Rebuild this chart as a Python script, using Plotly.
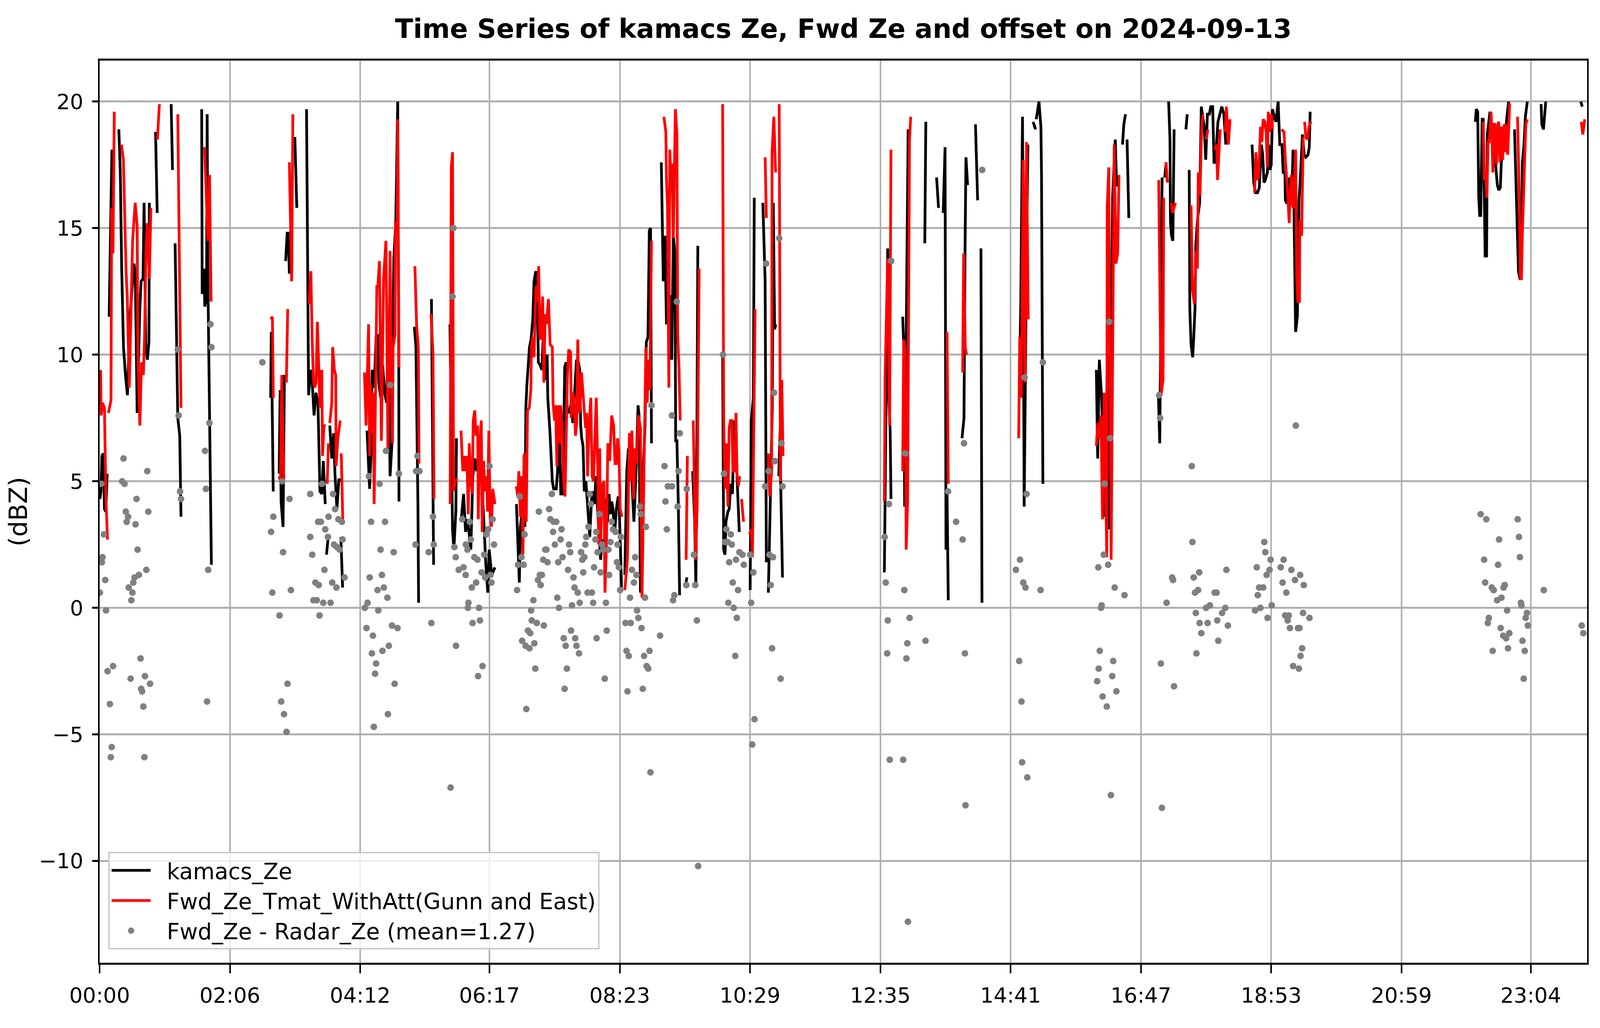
import pandas as pd
import plotly.graph_objects as go

# minutes after midnight on 2024-09-13, None = gap in the record
kamacs_min = [
    0.3, 1.3, 2.2, 3.5, 4.7, 6.0, 7.3, None,
    9.2, 11.9, None,
    18.6, 20.0, 21.3, 23.1, 25.0, 26.9, 29.4, 33.2, 34.5,
    36.3, 38.9, 40.1, 42.0, 43.0, 44.6, 46.2, 47.7, 48.1, None,
    54.1, 55.7, None,
    69.2, 70.5, None,
    73.0, 74.5, 75.6, 77.5, 78.7, None,
    98.7, 99.2, 100.9, 101.7, 103.4, 104.0, 104.7, 106.6, 108.1, None,
    165.4, 166.0, 167.9, None,
    173.6, 174.6, 175.5, 177.4, 178.7, None,
    179.9, 181.4, 182.5, 183.5, None,
    188.8, 190.7, None,
    200.1, 201.1, 202.1, 203.6, 204.9, 207.4, 209.3, 211.2, 213.1, 215.0, 216.3, 218.2, None,
    219.4, 221.3, None,
    222.6, 224.5, 226.4, 227.6, 229.5, 231.4, 232.7, None,
    233.3, 235.0, None,
    258.6, 259.9, 261.1, 262.4, 263.6, 265.5, 267.4, 269.1, 270.0, 271.8, 273.7,
    275.6, 277.5, 279.2, 280.9, 282.6, 284.5, 286.4, 288.3, 289.3, 289.5, None,
    304.4, 305.9, 307.8, 308.5, None,
    320.9, 322.1, 323.0, None,
    338.8, 340.3, 341.3, 342.6, 344.5, 345.1, None,
    349.5, 352.0, 353.9, 355.8, 359.0, 360.9, 362.8, 364.7, 367.2,
    369.7, 371.6, 373.5, 375.4, 376.7, 379.2, 381.7, 382.3, None,
    403.1, 405.9, 406.9, 408.8, 410.4, 411.3, 412.2, 413.2, 414.5, 415.7,
    417.2, 418.9, 420.1, 421.8, 423.3, 424.3, 425.8, 427.7, 429.4, 431.1,
    432.8, 433.4, 435.3, 436.6, 437.8, 439.1, 441.6, 442.9, 444.1, 446.0,
    447.9, 449.8, 451.1, 452.3, 454.2, 456.1, 457.6, 459.3, 461.2, 463.1,
    464.3, 465.2, 466.2, 467.5, 468.7, 470.3, 471.3, 472.5, 474.0, 475.7,
    477.3, 478.8, 479.8, 481.6, 483.2, 484.5, 486.2, 488.3, 489.6, 491.2,
    492.7, 494.0, 495.2, 496.5, 498.0, 499.7, 501.5, 502.6, 503.8, 504.7, None,
    507.9, 509.8, 511.4, 512.9, 514.8, 516.7, 519.0, 520.7, 521.7, 523.0,
    525.5, 527.4, 528.7, 530.3, 531.6, 532.8, 533.7, None,
    543.2, 545.1, 546.7, 548.2, 550.1, 552.0, 553.3, 554.8, 556.4, 557.1, 558.3, 559.6, 560.9, None,
    566.2, 568.0, None,
    573.5, 575.4, 576.6, 577.3, 578.5, None,
    602.5, 603.5, 604.8, 605.7, 607.6, 608.8, 610.4, 612.0, 613.6, 615.2, 616.4, 617.4, 618.6, None,
    619.5, 622.1, None,
    629.1, 630.3, 632.2, 633.1, None,
    641.4, 643.6, 644.8, None,
    646.7, 648.6, 650.5, 651.5, 652.8, 653.8, None,
    656.8, 658.1, 658.7, 659.4, 660.4, None,
    758.9, 760.5, 762.1, 762.7, 764.5, 765.3, None,
    776.6, 777.9, 778.5, 781.0, 781.9, None,
    798.0, 799.0, None,
    809.4, 811.3, None,
    815.8, 817.6, 818.5, 819.5, 820.7, None,
    834.0, 835.9, 836.9, 837.8, 839.4, None,
    847.0, 847.8, 849.1, None,
    852.3, 853.3, None,
    888.2, 889.5, 890.8, 892.5, 893.2, 894.1, 895.7, 897.7, None,
    902.7, 905.2, None,
    905.8, 908.4, 910.3, 910.9, 912.2, None,
    963.9, 965.2, 966.8, 969.0, 972.1, 973.1, 974.7, 976.5, 978.4, 979.7, 982.2, 983.5, 984.8, None,
    989.2, 990.5, 992.1, None,
    993.6, 995.3, None,
    1024.0, 1025.2, 1026.4, 1027.5, None,
    1030.0, 1031.5, None,
    1033.8, 1035.1, 1035.6, 1036.6, 1037.9, 1039.1, None,
    1050.5, 1051.8, None,
    1053.7, 1054.3, 1055.5, 1057.1, 1058.1, 1059.3, 1060.0, 1061.9, 1063.8, 1064.4, 1065.4, 1068.2,
    1069.7, 1071.3, 1073.2, 1074.5, 1076.4, 1077.7, 1078.9, 1081.5, 1083.4, 1085.2, 1087.2, 1089.1, None,
    1114.5, 1116.1, 1117.8, 1119.8, 1121.5, 1123.5, 1124.8, 1126.0, 1127.3, 1128.5, 1129.3, 1130.6, 1131.8, 1133.0,
    1134.3, 1135.9, 1137.6, 1139.7, 1140.5, 1141.3, 1143.4, 1144.6, 1146.3, 1146.7, 1147.9, 1149.6, 1150.8, 1152.1,
    1152.9, 1154.1, 1155.0, 1155.8, 1156.6, 1158.3, 1159.9, 1161.6, 1163.2, 1164.9, 1166.5, 1168.6, 1169.8, 1170.7, None,
    1330.4, 1331.3, 1332.7, 1333.7, 1334.6, 1335.6, 1337.0, 1338.0, 1339.9, 1341.3, 1342.0, 1343.2,
    1344.6, 1345.6, 1347.4, 1349.8, 1351.7, 1353.1, 1354.6, 1355.5, 1357.9, 1359.8, 1361.2, 1362.6, None,
    1368.3, 1370.2, 1372.1, 1373.5, 1374.5, 1375.9, 1377.3, 1378.8, 1380.7, None,
    1394.0, 1394.7, 1396.3, 1397.6, 1398.5, None,
    1432.4, 1433.8,
]
kamacs_ze = [
    4.3, 4.6, 6.0, 6.1, 3.9, 3.8, 5.3, None,
    11.5, 18.1, None,
    18.9, 17.2, 13.5, 10.3, 9.2, 8.4, 11.5, 13.6, 13.2,
    7.7, 11.8, 12.9, 13.0, 16.0, 10.4, 9.8, 10.5, 16.0, None,
    18.8, 15.6, None,
    19.9, 17.3, None,
    14.4, 11.0, 7.5, 6.8, 3.6, None,
    19.7, 12.4, 13.4, 11.9, 12.3, 19.5, 13.0, 5.2, 1.7, None,
    8.3, 10.9, 4.6, None,
    5.3, 8.6, 4.2, 3.2, 9.2, None,
    13.7, 14.8, 14.8, 13.2, None,
    18.6, 15.8, None,
    19.7, 12.1, 8.4, 9.2, 9.4, 7.6, 8.5, 8.0, 4.6, 4.5, 5.8, 4.1, None,
    2.1, 2.9, None,
    7.2, 5.9, 6.9, 5.3, 3.9, 5.1, 5.0, None,
    2.8, 0.8, None,
    7.0, 5.4, 4.7, 6.1, 9.4, 8.7, 10.7, 10.8, 8.9, 8.3, 9.6,
    8.5, 8.1, 11.4, 5.2, 6.4, 13.8, 15.2, 20.0, 9.4, 4.2, None,
    11.1, 10.3, 4.2, 0.2, None,
    12.2, 7.0, 1.7, None,
    11.2, 6.0, 3.1, 2.3, 3.8, 6.7, None,
    3.4, 4.5, 3.0, 3.5, 2.3, 5.2, 5.9, 5.4, 5.8,
    4.9, 3.4, 1.7, 0.6, 2.3, 1.3, 1.6, 1.6, None,
    4.1, 1.0, 3.2, 3.9, 4.5, 3.2, 7.9, 8.8, 9.5, 10.3,
    10.6, 11.4, 12.9, 13.3, 12.1, 9.7, 9.6, 9.4, 11.2, 9.0,
    10.0, 8.3, 7.1, 5.8, 5.0, 4.7, 4.7, 5.4, 7.9, 4.5,
    4.5, 9.5, 9.7, 7.8, 7.7, 8.1, 7.3, 8.5, 9.8, 9.7,
    9.4, 7.2, 6.7, 6.4, 4.6, 5.0, 4.3, 3.4, 2.8, 4.3,
    4.6, 4.1, 5.2, 3.9, 2.7, 1.9, 2.7, 2.5, 4.3, 3.4,
    4.5, 3.7, 4.2, 3.9, 2.9, 3.9, 4.4, 3.8, 2.2, 0.8, None,
    1.3, 5.4, 6.3, 5.7, 5.0, 3.4, 5.6, 8.0, 7.6, 0.6,
    5.3, 7.1, 10.5, 10.7, 14.9, 15.0, 6.5, None,
    17.6, 12.9, 14.7, 11.2, 12.3, 12.3, 9.8, 14.7, 14.0, 6.6, 6.6, 4.2, 0.5, None,
    0.8, 1.2, None,
    5.4, 3.5, 0.9, 4.1, 14.3, None,
    10.0, 2.3, 2.1, 3.4, 3.8, 3.9, 4.9, 4.5, 7.4, 6.8, 5.2, 4.2, 3.0, None,
    2.1, 2.1, None,
    0.7, 7.4, 8.3, 16.2, None,
    16.0, 12.9, 1.8, None,
    0.6, 4.5, 7.9, 16.0, 11.0, 11.2, None,
    5.2, 7.0, 4.8, 2.5, 1.2, None,
    1.4, 9.0, 14.2, 8.9, 7.0, 4.3, None,
    11.5, 10.1, 4.0, 16.6, 18.9, None,
    14.4, 19.2, None,
    17.0, 15.8, None,
    15.6, 18.2, 2.3, 4.6, 0.3, None,
    6.7, 7.5, 14.0, 17.8, 16.7, None,
    19.1, 17.8, 16.1, None,
    14.2, 0.2, None,
    8.9, 8.9, 12.0, 19.4, 13.5, 4.0, 10.9, 18.3, None,
    19.2, 18.9, None,
    19.3, 20.0, 19.0, 17.0, 4.9, None,
    9.4, 5.9, 9.8, 8.3, 3.6, 6.1, 10.0, 3.1, 10.0, 16.3, 18.5, 16.7, 16.7, None,
    18.3, 19.1, 19.5, None,
    18.5, 15.4, None,
    8.3, 6.5, 12.0, 17.0, None,
    17.0, 17.6, None,
    20.0, 18.5, 15.2, 14.7, 14.5, 18.9, None,
    18.9, 19.5, None,
    17.3, 11.8, 10.4, 9.9, 10.7, 11.8, 14.3, 15.4, 16.0, 17.6, 19.8, 19.0,
    17.7, 19.5, 19.5, 19.8, 19.8, 17.6, 17.6, 19.2, 19.5, 19.8, 19.5, 18.3, None,
    18.3, 16.8, 16.4, 16.4, 16.6, 18.3, 17.9, 16.8, 16.9, 17.1, 17.2, 18.3, 17.3, 17.5,
    19.7, 19.4, 19.2, 20.0, 19.0, 18.3, 18.3, 17.2, 17.2, 16.1, 16.0, 16.0, 17.0, 16.8,
    16.1, 18.1, 15.8, 13.0, 10.9, 11.5, 16.1, 17.3, 18.7, 17.9, 17.8, 17.9, 18.2, 19.6, None,
    19.2, 19.7, 19.6, 16.2, 15.5, 15.5, 19.3, 19.3, 13.9, 13.9, 18.7, 19.1,
    19.6, 18.7, 18.8, 17.6, 16.7, 16.5, 16.6, 17.6, 18.3, 18.9, 19.5, 20.0, None,
    18.9, 15.9, 13.3, 13.0, 13.0, 17.6, 18.2, 19.4, 20.0, None,
    19.9, 19.1, 18.9, 19.6, 20.0, None,
    20.0, 19.8,
]

fwd_min = [
    0.9, 1.5, 2.8, 4.7, 6.0, 7.6, None,
    8.5, 11.0, 11.6, 12.9, 14.2, None,
    21.1, 23.0, 25.6, 26.8, 28.7, 30.0, 31.9, 34.4, 36.3,
    37.0, 38.9, 40.5, 42.3, 43.5, 44.8, 46.1, 48.1, 49.6, None,
    55.9, 57.8, None,
    75.6, 78.7, None,
    101.5, 104.7, 106.3, 107.8, None,
    165.4, 167.1, 168.0, None,
    173.6, 174.9, 176.2, 178.1, None,
    180.6, 181.9, None,
    183.5, 185.7, 186.9, None,
    202.6, 204.3, 205.5, 206.8, 208.1, 209.3, 210.6, 211.9, 213.1, 214.8, 215.6, 216.9, 218.6, None,
    220.1, 221.3, None,
    222.6, 224.5, 225.4, 227.0, 228.3, 228.7, 230.4, 231.7, 232.7, None,
    233.7, 235.2, None,
    256.1, 257.7, 260.1, 261.1, 262.0, 263.3, 264.5, 265.5, 268.1, 269.1, 270.6, 272.5,
    274.6, 276.9, 278.8, 280.9, 283.2, 283.8, 285.7, 286.1, 287.6, 288.3, 289.5, None,
    304.9, 306.6, 308.2, 308.9, None,
    320.5, 322.4, 323.4, None,
    339.0, 340.1, 341.3, 342.3, 343.8, 346.1, None,
    349.5, 351.2, 352.7, 353.9, 355.2, 356.5, 357.5, 358.7, 360.3, 361.3, 362.8, 364.0, 365.6, 366.2,
    367.5, 369.1, 370.0, 371.4, 372.6, 374.2, 375.2, 376.4, 377.7, 378.9, 380.2, 381.7, 382.3, None,
    402.9, 404.4, 405.4, 406.9, 408.2, 409.4, 410.4, 411.3, 412.6, 413.8,
    415.5, 417.0, 417.6, 418.9, 420.1, 422.0, 423.3, 424.6, 425.8, 426.8,
    428.4, 429.6, 430.9, 432.1, 434.0, 435.7, 437.8, 438.5, 440.0, 441.0,
    442.2, 443.2, 444.8, 445.8, 447.3, 448.5, 450.1, 451.3, 452.3, 453.6,
    455.5, 456.1, 457.4, 458.6, 460.2, 461.4, 462.4, 463.7, 464.3, 466.0,
    467.5, 468.7, 470.0, 471.0, 471.9, 473.2, 475.0, 476.3, 477.6, 478.8,
    480.3, 482.0, 482.6, 483.6, 484.5, 485.8, 487.7, 488.7, 490.2, 491.5,
    493.3, 495.2, 497.1, 498.4, 499.7, 500.9, 502.2, 503.4, 505.1, None,
    507.9, 510.4, 512.3, 513.5, 514.8, 516.4, 517.7, 519.2, 521.1,
    523.0, 524.5, 525.8, 526.8, 528.3, 529.6, 530.8, 532.1, 533.7, None,
    545.7, 547.6, 548.2, 549.2, 550.5, 551.4, 552.0, 553.5, 554.8, 556.8, 558.3, 559.0, 560.2, 561.5, None,
    567.2, 568.4, None,
    574.1, 575.4, 576.4, 577.9, 579.8, None,
    602.5, 603.5, 604.8, 606.3, 607.6, 608.8, 610.1, 611.4, 612.4, 613.9, 615.4, 616.4, 617.7, 619.0, None,
    620.8, 622.7, None,
    628.4, 630.3, 631.3, 632.6, 633.9, None,
    643.6, 644.8, None,
    646.7, 648.0, 649.9, 650.3, 652.0, 653.7, None,
    657.2, 657.8, 658.4, 659.7, 660.9, None,
    758.9, 759.6, 762.1, 764.0, 765.3, None,
    776.6, 777.6, 779.1, 780.0, 781.4, 783.2, 784.4, None,
    819.5, 820.7, None,
    834.6, 835.6, 837.1, 838.4, None,
    888.8, 889.8, 891.3, 893.2, 894.9, 896.4, 898.0, None,
    963.9, 965.2, 966.8, 968.3, 969.9, 971.5, 974.0, 974.4, 975.9, 978.2, 981.2, 982.9, 984.5, 985.8, None,
    1024.2, 1025.8, 1026.5, 1028.4, 1029.0, None,
    1031.3, 1032.6, None,
    1036.3, 1037.6, 1040.4, None,
    1055.5, 1056.8, 1058.7, 1060.4, 1061.6, 1062.5, 1064.1, 1065.7, 1066.9, None,
    1070.1, 1071.7, None,
    1078.3, 1080.2, 1081.1, 1083.6, None,
    1088.4, 1089.7, 1091.6, 1093.2, None,
    1116.9, 1118.2, 1119.4, 1120.7, 1122.7, 1124.0, 1125.2, 1126.9, 1128.1, 1129.3, 1130.2, 1131.4, 1132.2, 1133.5, 1134.3, None,
    1143.0, 1145.4, 1146.7, 1148.3, 1149.2, 1150.4, 1151.2, 1152.5, 1153.7,
    1154.5, 1156.6, 1157.8, 1158.7, 1160.3, 1160.7, 1162.4, 1163.2, 1164.0, None,
    1165.3, 1166.5, 1168.2, 1169.4, 1171.5, None,
    1338.0, 1339.1, 1340.3, 1341.6, 1342.7, 1343.8, 1345.6, 1346.5, 1347.3, 1348.4, 1349.3, 1350.8, 1352.2,
    1353.1, 1354.1, 1355.0, 1356.2, 1356.9, 1357.9, 1358.8, 1359.6, 1360.7, 1361.7, 1362.6, 1363.6, 1364.5, None,
    1371.2, 1373.1, 1374.0, 1375.0, 1375.9, 1377.8, 1379.2, 1380.7, None,
    1432.9, 1434.3, 1436.2,
]
fwd_ze = [
    9.4, 7.6, 8.1, 7.9, 4.5, 2.7, None,
    7.7, 8.2, 15.8, 14.0, 19.6, None,
    18.3, 17.7, 13.3, 12.2, 8.7, 11.2, 14.5, 16.0, 15.1,
    10.1, 7.2, 9.7, 9.2, 10.7, 14.0, 15.2, 13.0, 15.8, None,
    18.5, 19.9, None,
    19.5, 7.9, None,
    18.2, 14.5, 17.1, 12.1, None,
    11.4, 11.5, 8.3, None,
    5.2, 5.0, 9.2, 5.0, None,
    8.9, 11.8, None,
    17.6, 12.9, 19.5, None,
    12.0, 13.3, 10.7, 9.0, 8.7, 8.9, 11.3, 9.7, 7.9, 9.4, 6.0, 7.2, 7.2, None,
    4.9, 6.5, None,
    7.3, 8.1, 10.3, 9.4, 9.2, 5.6, 6.7, 7.2, 7.4, None,
    6.1, 3.4, None,
    9.3, 7.2, 11.2, 6.0, 8.8, 6.9, 8.5, 4.1, 12.7, 12.7, 13.7, 6.6,
    13.0, 14.5, 6.3, 14.1, 6.5, 10.3, 10.8, 15.2, 15.2, 19.3, 9.5, None,
    13.5, 11.1, 10.3, 5.7, None,
    11.6, 10.0, 4.3, None,
    4.1, 17.4, 18.0, 4.6, 5.0, 5.1, None,
    7.0, 5.4, 6.0, 5.4, 6.0, 3.7, 6.5, 5.2, 4.5, 7.4, 7.8, 6.8, 7.2, 3.5,
    6.1, 7.4, 3.0, 5.8, 4.6, 5.2, 3.8, 7.0, 3.6, 3.2, 4.7, 4.1, 4.1, None,
    4.8, 4.4, 5.4, 3.6, 5.2, 2.1, 6.0, 6.1, 3.4, 7.8,
    7.9, 8.6, 10.3, 10.7, 9.9, 12.7, 12.1, 13.5, 10.7, 10.6,
    12.3, 8.9, 11.6, 11.2, 12.2, 10.4, 10.3, 8.1, 7.4, 8.0,
    5.6, 8.0, 6.5, 8.0, 7.1, 5.2, 4.4, 7.2, 9.0, 10.2,
    10.1, 7.5, 8.5, 8.3, 6.8, 7.3, 10.6, 7.8, 7.7, 9.3,
    8.2, 7.8, 7.1, 7.7, 5.2, 7.1, 8.3, 5.2, 5.0, 6.8,
    8.3, 4.8, 2.5, 6.3, 2.4, 4.8, 5.0, 0.6, 2.6, 6.5,
    5.8, 7.6, 7.2, 5.7, 5.7, 6.7, 6.2, 3.9, 3.6, None,
    0.7, 1.9, 6.9, 5.0, 7.0, 4.3, 6.3, 5.7, 7.6,
    7.1, 0.4, 3.9, 7.0, 10.3, 8.1, 9.8, 8.6, 14.5, None,
    19.4, 18.8, 16.9, 15.9, 8.7, 18.1, 17.5, 17.5, 14.6, 19.7, 18.7, 10.8, 9.6, 7.4, None,
    1.9, 6.0, None,
    7.4, 4.0, 1.9, 4.1, 13.4, None,
    19.9, 7.6, 4.7, 6.5, 4.0, 7.1, 7.4, 7.4, 5.4, 5.4, 7.7, 5.3, 4.8, 5.2, None,
    4.3, 3.4, None,
    2.9, 3.1, 2.0, 8.3, 11.8, None,
    17.8, 15.4, None,
    6.1, 4.4, 5.4, 18.0, 19.4, 17.2, None,
    19.9, 9.3, 5.0, 9.0, 6.0, None,
    4.2, 9.1, 13.8, 7.2, 18.1, None,
    5.4, 10.6, 10.1, 2.3, 4.2, 18.5, 19.4, None,
    10.9, 4.9, None,
    9.3, 14.0, 10.3, 10.0, None,
    6.7, 10.7, 8.3, 17.7, 8.9, 18.4, 11.4, None,
    6.4, 7.3, 6.7, 7.6, 3.5, 8.5, 2.0, 15.8, 17.4, 1.9, 18.3, 13.6, 14.0, 17.1, None,
    16.9, 10.0, 8.4, 9.0, 16.2, None,
    17.6, 16.8, None,
    16.0, 15.6, 16.0, None,
    15.9, 12.6, 12.0, 14.1, 13.4, 17.2, 16.3, 18.9, 19.5, None,
    18.5, 18.9, None,
    18.1, 18.3, 16.9, 18.9, None,
    18.8, 19.8, 18.3, 19.3, None,
    16.4, 18.0, 16.9, 17.0, 19.0, 18.4, 19.3, 19.2, 18.8, 17.4, 19.6, 18.8, 19.5, 19.4, 18.9, None,
    18.9, 18.8, 17.7, 16.8, 16.2, 15.2, 16.3, 17.1, 15.9,
    15.8, 18.1, 13.0, 12.1, 12.1, 15.3, 14.7, 16.2, 18.6, None,
    19.2, 18.6, 18.5, 19.0, 19.2, None,
    19.2, 16.9, 17.3, 16.2, 18.4, 18.4, 19.6, 18.7, 17.2, 19.1, 19.1, 17.5, 19.1,
    19.2, 17.6, 18.9, 19.0, 17.7, 19.0, 19.1, 18.0, 19.1, 17.9, 19.1, 19.9, 19.9, None,
    19.4, 15.9, 13.0, 13.0, 14.8, 16.9, 19.1, 19.3, None,
    19.2, 18.7, 19.3,
]

offset_min = [
    0.3, 1.6, 2.2, 2.8, 4.1, 5.4, 6.2, 7.7, 9.9, 10.8,
    11.7, 13.0, 21.8, 23.1, 24.1, 25.3, 26.2, 27.5, 28.1, 30.0,
    30.7, 31.7, 32.6, 33.8, 34.7, 35.7, 36.7, 38.0, 39.6, 40.2,
    41.1, 42.3, 43.3, 43.9, 45.2, 46.1, 47.1, 48.8, 75.6, 76.4,
    77.8, 78.7, 101.9, 102.8, 103.9, 105.0, 106.2, 107.2, 108.1, 157.4,
    165.8, 167.0, 168.0, 174.0, 175.6, 176.4, 177.4, 178.3, 180.8, 181.7,
    183.7, 185.0, 203.7, 203.7, 205.6, 206.8, 208.7, 210.0, 211.3, 211.9,
    212.7, 214.0, 215.1, 216.3, 217.4, 218.2, 220.8, 221.4, 223.3, 224.9,
    225.8, 226.7, 227.7, 229.0, 229.6, 230.9, 232.1, 234.3, 235.0, 236.9,
    256.5, 258.1, 259.1, 260.4, 261.2, 262.5, 263.3, 264.3, 265.2, 266.4,
    267.4, 268.8, 269.5, 270.7, 271.7, 273.0, 273.5, 274.9, 276.0, 277.0,
    278.3, 278.8, 279.7, 281.1, 282.8, 284.4, 285.3, 288.1, 289.4, 305.5,
    306.1, 307.4, 309.3, 318.2, 320.8, 322.4, 323.2, 339.4, 341.3, 342.2,
    343.1, 344.4, 344.6, 347.3, 350.7, 351.9, 354.0, 354.2, 355.7, 356.1,
    356.7, 358.0, 359.0, 359.9, 360.7, 362.4, 364.1, 365.4, 366.0, 366.9,
    367.8, 369.4, 370.3, 371.9, 372.9, 373.8, 375.7, 377.0, 378.0, 378.9,
    380.1, 381.4, 403.7, 404.6, 406.3, 407.9, 408.6, 410.1, 410.9, 412.0,
    412.6, 414.2, 415.7, 416.4, 417.3, 417.9, 419.5, 420.4, 421.3, 422.8,
    423.9, 424.8, 425.8, 426.5, 427.7, 429.0, 429.6, 430.9, 432.1, 433.1,
    434.7, 435.9, 437.4, 438.5, 439.1, 440.3, 441.6, 442.6, 443.5, 444.2,
    445.8, 446.7, 447.7, 448.8, 449.7, 450.7, 451.9, 453.0, 454.0, 455.1,
    455.9, 456.8, 458.3, 459.3, 459.9, 461.2, 462.4, 463.6, 464.3, 465.6,
    466.8, 467.7, 468.7, 469.7, 470.6, 471.9, 472.8, 474.0, 475.0, 476.1,
    477.3, 478.2, 479.5, 480.3, 480.6, 481.6, 483.2, 484.5, 485.8, 487.0,
    488.5, 489.6, 490.4, 492.1, 492.7, 494.0, 495.2, 496.5, 499.0, 500.3,
    500.9, 502.2, 503.4, 504.1, 508.6, 509.5, 510.5, 511.7, 512.9, 513.6,
    514.8, 516.7, 517.9, 519.2, 519.7, 521.0, 522.4, 523.3, 524.1, 525.3,
    526.5, 527.4, 528.3, 529.0, 530.6, 531.8, 532.7, 533.7, 542.0, 546.3,
    547.2, 548.5, 549.5, 553.5, 553.5, 554.6, 555.8, 558.1, 559.0, 559.9,
    561.1, 567.4, 567.8, 574.7, 576.0, 577.6, 578.8, 602.8, 603.8, 604.8,
    606.1, 607.3, 608.0, 608.8, 610.4, 611.4, 612.3, 613.2, 614.7, 615.4,
    616.2, 617.4, 618.7, 621.7, 623.0, 629.1, 630.1, 631.1, 632.2, 633.3,
    643.6, 644.6, 647.0, 647.7, 649.0, 650.3, 651.2, 652.2, 653.1, 657.2,
    658.6, 659.4, 660.4, 759.2, 760.2, 761.6, 762.2, 763.4, 764.1, 765.5,
    777.1, 778.2, 779.1, 780.2, 781.1, 781.7, 783.3, 798.7, 820.5, 828.3,
    834.6, 835.9, 836.8, 837.4, 853.5, 886.1, 889.3, 890.1, 891.5, 892.1,
    893.2, 894.5, 895.4, 896.4, 897.1, 910.0, 912.2, 964.7, 965.8, 966.2,
    967.2, 968.4, 969.0, 970.0, 971.1, 971.9, 974.0, 975.3, 976.3, 977.2,
    978.0, 979.3, 980.2, 981.6, 983.3, 991.1, 1024.6, 1025.6, 1026.3, 1027.3,
    1031.8, 1037.2, 1038.1, 1039.0, 1056.2, 1056.8, 1058.1, 1059.3, 1060.1, 1060.7,
    1062.3, 1063.4, 1063.8, 1065.4, 1070.0, 1071.5, 1073.7, 1078.3, 1080.2, 1080.8,
    1081.8, 1085.5, 1088.6, 1089.7, 1091.1, 1117.4, 1119.0, 1120.0, 1121.3, 1122.6,
    1125.3, 1126.3, 1127.3, 1128.6, 1129.5, 1131.4, 1132.4, 1133.5, 1142.2, 1144.0,
    1145.0, 1146.5, 1147.6, 1149.0, 1149.9, 1151.1, 1152.5, 1154.2, 1156.0, 1156.8,
    1158.9, 1159.8, 1160.4, 1161.0, 1161.4, 1162.9, 1163.8, 1164.5, 1170.0, 1335.6,
    1338.9, 1339.9, 1341.0, 1342.5, 1343.5, 1346.3, 1347.2, 1348.2, 1351.5, 1352.4,
    1353.4, 1354.9, 1355.7, 1357.4, 1357.7, 1358.8, 1360.2, 1361.1, 1362.0, 1363.3,
    1371.4, 1372.6, 1373.5, 1374.5, 1375.0, 1376.0, 1377.2, 1378.2, 1379.1, 1380.3,
    1381.2, 1396.6, 1433.3, 1434.8,
]
offset_db = [
    0.6, 4.9, 1.8, 2.0, 2.9, 1.1, -0.1, -2.5, -3.8, -5.9,
    -5.5, -2.3, 5.0, 5.9, 4.9, 3.8, 3.4, 3.6, 0.8, -2.8,
    0.3, 0.6, 1.0, 1.2, 3.3, 4.3, 2.3, 1.3, -2.0, -3.2,
    -3.3, -3.9, -5.9, -2.7, 1.5, 5.4, 3.8, -3.0, 10.2, 7.6,
    4.6, 4.3, 6.2, 4.7, -3.7, 1.5, 7.3, 11.2, 10.3, 9.7,
    3.0, 0.6, 3.6, -0.3, -3.7, 5.0, 2.2, -4.2, -4.9, -3.0,
    4.3, 0.7, 4.5, 2.8, 2.1, 0.3, 1.0, 0.3, 3.4, 0.9,
    -0.3, 3.4, 4.9, 0.2, 1.5, 3.1, 2.8, 3.6, 0.2, 1.0,
    4.5, 2.5, 3.9, 0.8, 2.4, 3.5, 2.3, 3.4, 2.7, 1.2,
    0.0, -0.8, 0.2, 5.2, 1.2, 3.4, -1.8, -1.1, -4.7, -2.6,
    -2.2, 0.7, -0.1, 4.9, 2.3, 1.3, -1.7, 0.8, 3.4, 6.2,
    0.4, -4.2, -1.5, 8.8, -0.7, 2.2, -3.0, -0.8, 5.3, 2.5,
    5.4, 6.0, 5.4, 2.2, -0.6, 3.6, 2.5, -7.1, 12.3, 15.0,
    2.4, 2.0, -1.5, 1.5, 3.5, 1.6, 1.3, 2.5, 2.3, 0.0,
    0.2, 3.4, 2.7, 0.8, -0.6, 2.0, 1.0, 1.9, -2.7, 0.0,
    -0.5, 1.4, -2.3, 2.1, 1.2, 2.9, 3.1, 5.6, 1.3, 1.0,
    3.5, 2.5, 0.7, 1.7, 4.4, 2.0, -1.3, 1.7, 2.9, -1.5,
    -4.0, -0.9, -1.6, -1.0, -0.1, -0.5, 0.3, -1.4, -2.4, -0.6,
    1.1, 3.8, 1.3, 0.9, 1.3, 1.9, -0.7, 2.3, 2.3, 1.8,
    3.9, 3.5, 4.5, 3.0, 3.4, 2.5, 3.4, 0.4, 1.8, 0.0,
    2.7, 3.1, 2.0, -1.2, -3.2, -1.5, -2.4, 1.5, 2.5, 2.2,
    -0.9, 0.1, 1.2, 0.8, -1.2, -1.5, 0.6, -1.8, 0.2, 2.2,
    1.9, 1.4, 2.0, 2.5, 2.8, 0.6, 3.2, 4.5, 4.1, 0.6,
    0.2, 1.6, 2.7, 3.0, -1.2, 2.2, 3.7, 1.4, 2.5, 2.3,
    -2.8, 0.2, -0.9, 2.3, 1.3, 2.6, 3.4, 3.1, 3.0, 1.8,
    2.5, 1.6, 0.7, 2.8, -0.6, -1.7, -3.3, -1.9, 0.4, -0.6,
    1.5, 1.0, 2.0, 1.3, -0.1, -0.4, 4.0, 3.7, -0.8, -3.2,
    -1.9, 0.4, 3.2, -2.3, -2.4, -1.7, -6.5, 8.0, -1.1, 5.6,
    4.2, 3.1, 4.8, 7.6, 4.8, 0.3, 0.5, 12.1, 4.0, 5.4,
    6.9, 0.9, 4.7, 2.1, 0.9, -0.5, -10.2, 10.0, 5.3, 2.6,
    3.1, 2.6, 0.2, 1.8, 2.9, 2.5, 1.0, 0.0, -1.9, 1.9,
    -0.4, 0.7, 2.2, 2.1, 1.7, 2.1, 0.2, -5.4, 1.4, -4.4,
    4.8, 13.6, 5.4, 2.1, 0.9, -1.6, 2.0, 8.5, 5.8, 14.6,
    -2.8, 6.5, 4.8, 2.8, 1.0, -1.8, -0.5, 4.1, -6.0, 13.7,
    -6.0, 0.7, 6.1, -2.0, -1.4, -12.4, -0.4, -1.3, 4.6, 3.4,
    2.7, 6.5, -1.8, -7.8, 17.3, 1.5, -2.1, 1.9, -3.7, -6.1,
    1.0, 9.1, 0.8, 4.5, -6.7, 0.7, 9.7, -2.9, 1.6, -2.4,
    -1.7, 0.0, 0.1, -3.5, 2.1, 4.9, -3.9, 1.7, 11.3, 6.7,
    -7.4, -2.7, -2.1, 0.8, -3.3, 0.5, 8.4, 7.5, -2.2, -7.9,
    0.2, 1.2, 1.1, -3.1, 5.6, 2.6, 1.2, 0.6, -0.2, -1.8,
    0.7, 1.4, -0.6, -1.0, 0.0, -0.6, 0.1, 0.6, 0.6, -0.5,
    -1.3, -0.2, 0.0, 1.5, -0.7, -0.1, 1.6, 0.5, 0.8, 0.0,
    0.8, 2.6, 2.2, 1.3, -0.4, 1.5, 1.9, 0.1, 1.6, 1.0,
    1.9, -0.3, 0.6, -0.5, -0.3, -0.8, 1.5, -2.3, 1.1, 7.2,
    -0.8, -2.4, -0.8, 1.3, -1.9, -1.6, -0.2, 0.9, -0.4, 3.7,
    1.9, 1.0, 3.5, -0.6, -0.4, 0.8, -1.7, 0.7, 0.3, 1.7,
    2.7, -0.8, 0.4, -1.1, 0.8, 0.9, -1.2, -0.1, -1.6, -1.0,
    3.5, 2.8, 2.0, 0.2, 0.1, -1.3, -2.8, -1.7, -0.4, -0.2,
    -0.7, 0.7, -0.7, -1.0,
]
offset_mean = 1.27

tick_labels = ["00:00", "02:06", "04:12", "06:17", "08:23", "10:29",
               "12:35", "14:41", "16:47", "18:53", "20:59", "23:04"]

day = pd.Timestamp("2024-09-13")


def clock(minutes):
    return [None if m is None else day + pd.Timedelta(minutes=m) for m in minutes]


font = "DejaVu Sans"
pad = "\u00a0\u00a0"  # small gap between legend handle and label

# the headless browser caps the window at 4096 px wide, so the figure is laid
# out for that width (the post script below re-fits it to the real window)
W, H = 4096, 2631

fig = go.Figure()
fig.add_trace(go.Scatter(
    x=clock(kamacs_min), y=kamacs_ze, mode="lines", name=pad + "kamacs_Ze",
    legendgroup="a", line=dict(color="black", width=7)))
fig.add_trace(go.Scatter(
    x=clock(fwd_min), y=fwd_ze, mode="lines", name=pad + "Fwd_Ze_Tmat_WithAtt(Gunn and East)",
    legendgroup="b", line=dict(color="red", width=7)))
fig.add_trace(go.Scatter(
    x=clock(offset_min), y=offset_db, mode="markers",
    name=pad + f"Fwd_Ze - Radar_Ze (mean={offset_mean:.2f})",
    legendgroup="c", marker=dict(color="gray", size=17)))

common = dict(
    showline=True, linecolor="black", mirror=True,
    ticks="outside", tickcolor="black",
    showgrid=True, gridcolor="#b0b0b0", zeroline=False,
    tickfont=dict(family=font, size=54, color="black"),
    automargin=False,
)

fig.update_xaxes(
    type="date",
    range=[day, day + pd.Timedelta(minutes=1438.5)],
    tickvals=[day + pd.Timedelta(lbl + ":00") for lbl in tick_labels],
    ticktext=tick_labels,
    linewidth=5, ticklen=22, tickwidth=3.5, gridwidth=3.5,
    ticklabelstandoff=10,
    **common)
fig.update_yaxes(
    range=[-14.02, 21.62],
    tickvals=[-10, -5, 0, 5, 10, 15, 20],
    linewidth=3.5, ticklen=15, tickwidth=5, gridwidth=5,
    ticklabelstandoff=12,
    title=dict(text="(dBZ)", font=dict(family=font, size=64, color="black"), standoff=10),
    **common)

fig.update_layout(
    width=W, height=H,
    template="none",
    paper_bgcolor="white", plot_bgcolor="white",
    margin=dict(l=255, r=33, t=155, b=167),
    title=dict(
        text="Time Series of kamacs Ze, Fwd Ze and offset on 2024-09-13",
        font=dict(family=font, size=68, color="black", weight="bold"),
        x=0.5, xref="paper", xanchor="center",
        y=1 - 73 / H, yref="container", yanchor="middle"),
    legend=dict(
        x=0.0057, y=0.0147, xanchor="left", yanchor="bottom",
        bgcolor="rgba(255,255,255,0.8)", bordercolor="#cccccc", borderwidth=4,
        font=dict(family=font, size=57, color="black"),
        itemwidth=100, tracegroupgap=28, traceorder="normal"),
    showlegend=True,
)

fit_window = (
    "document.body.style.margin='0';"
    "var gd=document.getElementById('{plot_id}');"
    "var w=window.innerWidth;"
    "if(w&&Math.abs(w-gd.layout.width)>2){var k=w/4096;"
    "Plotly.relayout(gd,{width:w,'margin.l':255*k,'margin.r':33*k});}"
)

fig.write_html("out.html", post_script=fit_window, config={"displayModeBar": False})
